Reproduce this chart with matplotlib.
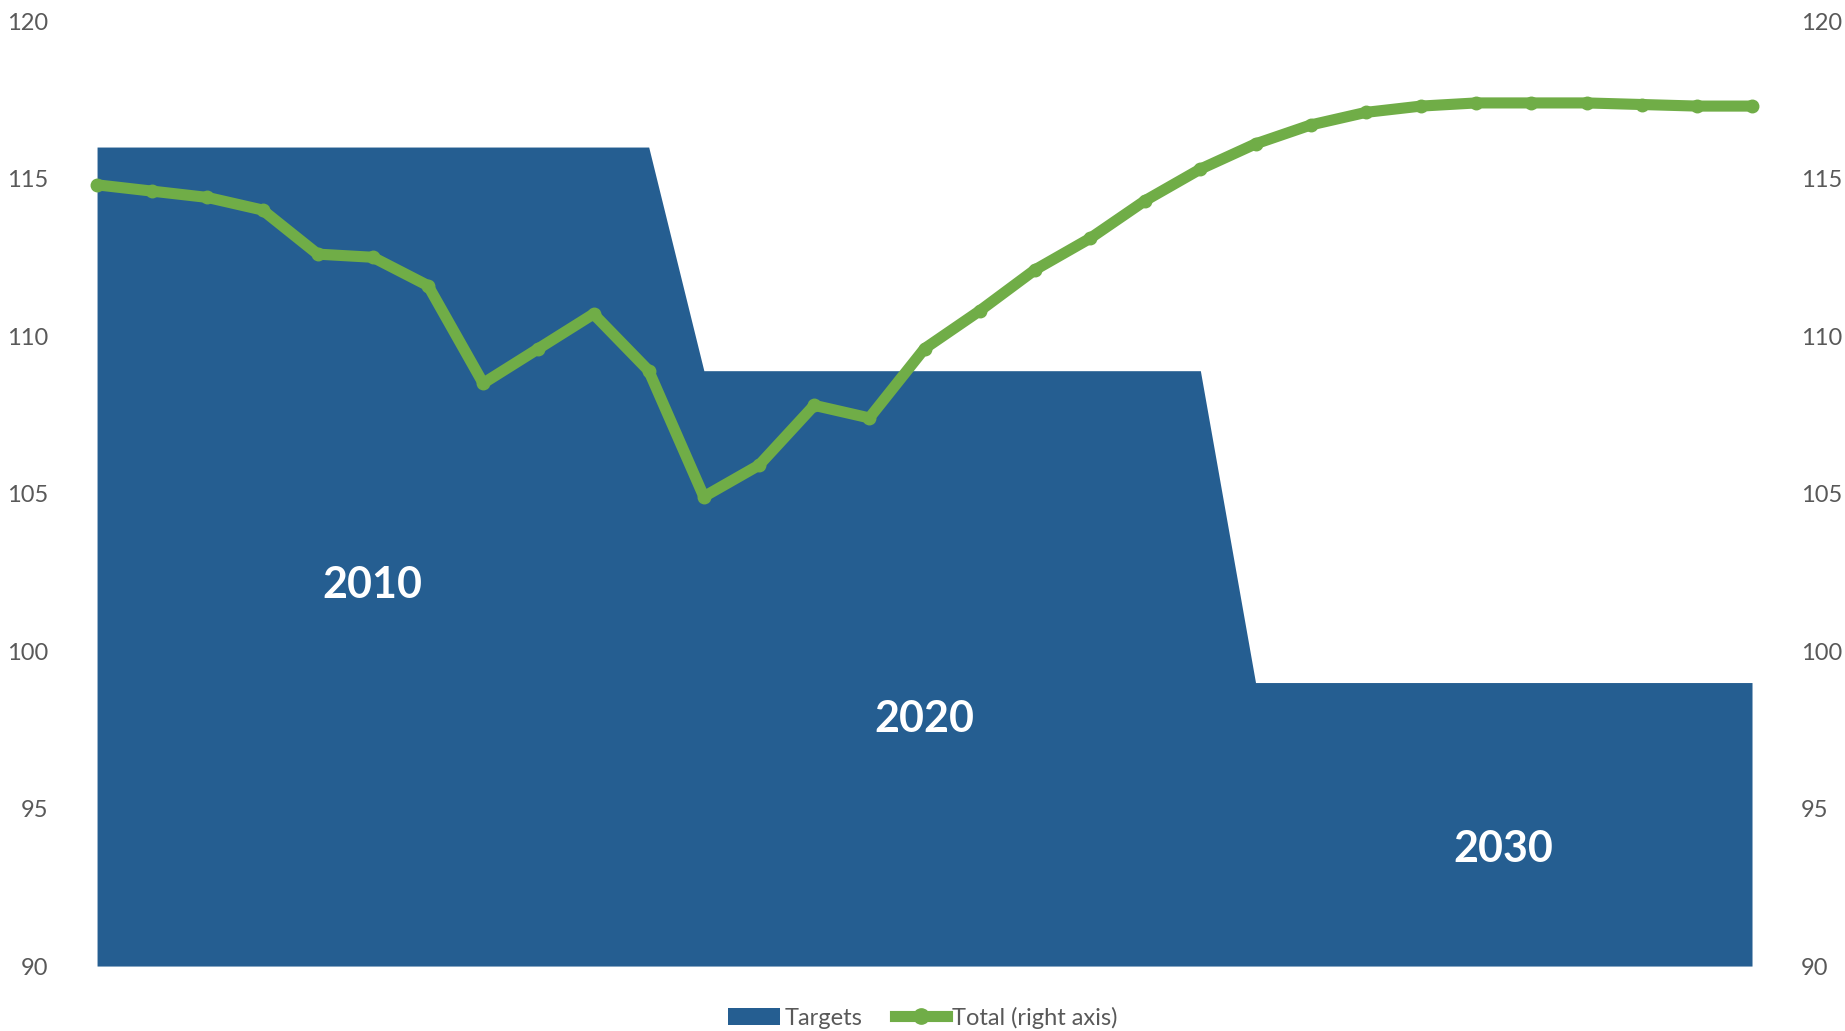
import matplotlib.pyplot as plt
from matplotlib.lines import Line2D
from matplotlib.patches import Patch

# ============================================================
# Data
# ============================================================

periods = list(range(31))

targets = [116.0] * 11 + [108.9] * 10 + [99.0] * 10

total = [
    114.8, 114.6, 114.4, 114.0, 112.6, 112.5, 111.6, 108.5, 109.6, 110.7,
    108.9, 104.9, 105.9, 107.8, 107.4, 109.6, 110.8, 112.1, 113.1, 114.3,
    115.3, 116.1, 116.7, 117.1, 117.3, 117.4, 117.4, 117.4, 117.35, 117.3,
    117.3,
]

target_labels = ["2010", "2020", "2030"]
label_x = [5, 15, 25.5]
label_y = [102.1, 97.85, 93.7]

yticks = [90, 95, 100, 105, 110, 115, 120]

# ============================================================
# Styles
# ============================================================

color_target = "#255E91"
color_total = "#70AD47"
color_text = "#595959"

plt.rcParams["font.family"] = ["Lato", "DejaVu Sans"]

fig = plt.figure(figsize=(18.45, 10.31), dpi=100)
ax = fig.add_axes([0.0526, 0.063, 0.8970, 0.9166])
ax2 = ax.twinx()

ax.fill_between(periods, 90, targets, color=color_target, linewidth=0)

ax2.plot(periods, total, color=color_total, linewidth=8,
         marker="o", markersize=9, solid_capstyle="round", clip_on=False)

for txt, x, y in zip(target_labels, label_x, label_y):
    ax.text(x, y, txt, color="white", fontsize=31, fontweight="bold",
            ha="center", va="center")

for a in (ax, ax2):
    a.set_xlim(0, 30)
    a.set_ylim(90, 120)
    a.set_yticks(yticks)
    a.tick_params(axis="y", length=0, labelsize=17, labelcolor=color_text,
                  pad=35)
    a.set_xticks([])
    for s in a.spines.values():
        s.set_visible(False)

handles = [
    Patch(facecolor=color_target, edgecolor="none", label="Targets"),
    Line2D([0], [0], color=color_total, linewidth=8, marker="o",
           markersize=11, label="Total (right axis)"),
]
leg = fig.legend(handles=handles, loc="center", bbox_to_anchor=(0.5, 0.013),
                 ncol=2, frameon=False, fontsize=17, handlelength=2.2,
                 handletextpad=0.2, columnspacing=1.4)
for t in leg.get_texts():
    t.set_color(color_text)

fig.savefig("out.png", dpi=100)
